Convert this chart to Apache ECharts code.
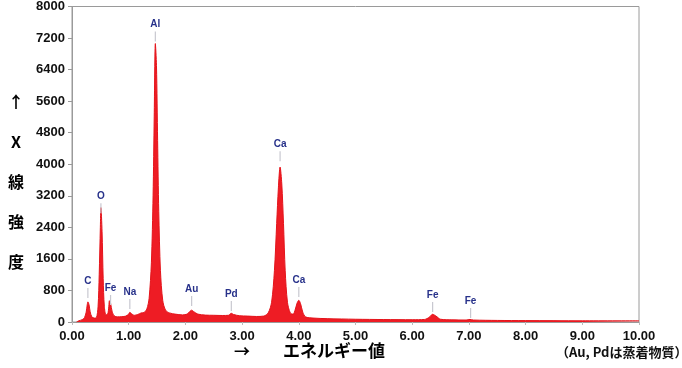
<!DOCTYPE html>
<html><head><meta charset="utf-8">
<script src="https://cdn.jsdelivr.net/npm/echarts@6/dist/echarts.min.js"></script>
<style>html,body{margin:0;padding:0;background:#fff}#c{width:682px;height:368px}</style>
</head><body><div id="c"></div>
<script>
// spectrum: energy (keV) and counts
const energy = [0.08,0.12,0.18,0.22,0.25,0.27,0.28,0.30,0.32,0.35,0.39,0.43,0.46,0.48,0.50,0.51,0.53,0.55,0.57,0.60,0.63,0.65,0.66,0.68,0.71,0.75,0.80,0.88,0.95,1.00,1.02,1.05,1.10,1.16,1.22,1.27,1.32,1.36,1.40,1.43,1.45,1.47,1.49,1.51,1.53,1.56,1.60,1.65,1.72,1.82,1.95,2.03,2.08,2.11,2.15,2.22,2.35,2.50,2.65,2.76,2.81,2.85,2.95,3.10,3.25,3.38,3.46,3.52,3.57,3.61,3.64,3.67,3.70,3.73,3.76,3.80,3.85,3.90,3.94,3.97,4.00,4.03,4.07,4.12,4.25,4.50,5.00,5.50,6.00,6.22,6.30,6.36,6.42,6.50,6.70,6.95,7.02,7.08,7.50,8.00,9.00,10.00];
const counts = [0,30,60,110,250,450,510,440,260,130,100,110,400,1200,2400,2900,2300,1100,400,180,200,400,540,480,250,150,130,135,150,200,245,210,170,190,230,240,330,600,1500,3200,5200,7060,6500,4600,2800,1300,550,300,230,200,180,200,270,300,260,200,175,170,165,170,220,190,160,150,140,150,230,500,1300,2500,3400,3930,3500,2500,1300,500,230,200,330,480,550,470,250,130,100,85,70,62,58,65,120,195,150,70,55,50,65,50,40,35,30,28];
// peak annotations
const peakNames = ['C','O','Fe','Na','Al','Au','Pd','Ca','Ca','Fe','Fe'];
const peakEnergy = [0.28,0.51,0.68,1.02,1.47,2.11,2.81,3.67,4.00,6.36,7.03];
const peakTickTop = [861,3013,684,582,7367,658,532,4329,886,506,354];
// axis ticks
const yTicks = [0,800,1600,2400,3200,4000,4800,5600,6400,7200,8000];
const xTicks = [0,1,2,3,4,5,6,7,8,9,10];

const chart = echarts.init(document.getElementById('c'));
const spec = energy.map((e,i)=>[e,counts[i]]);
const peaks = peakEnergy.map((e,i)=>[e,peakTickTop[i],peakNames[i]]);
chart.setOption({
  animation:false,
  grid:{left:72,right:43,top:5,bottom:46,show:true,borderColor:'#9a9a9a',borderWidth:1},
  xAxis:{type:'value',min:xTicks[0],max:xTicks[xTicks.length-1],interval:1,
    axisLine:{lineStyle:{color:'#9a9a9a'}},axisTick:{length:3,lineStyle:{color:'#bbb'}},
    splitLine:{show:false},
    axisLabel:{formatter:v=>v.toFixed(2),color:'#111',margin:8,
      fontFamily:'"Liberation Sans", Arial, sans-serif',fontWeight:'bold',fontSize:13}},
  yAxis:{type:'value',min:yTicks[0],max:yTicks[yTicks.length-1],interval:800,
    axisLine:{show:true,lineStyle:{color:'#9a9a9a'}},axisTick:{show:true,length:4,lineStyle:{color:'#9a9a9a'}},
    splitLine:{show:false},
    axisLabel:{formatter:v=>String(v),color:'#111',margin:7,fontFamily:'"Liberation Sans", Arial, sans-serif',fontWeight:'bold',fontSize:13}},
  series:[
    {type:'line',data:spec,symbol:'none',smooth:0.3,
      lineStyle:{color:'#e4141b',width:1},areaStyle:{color:'#ee1c24',opacity:1},z:2},
    {type:'custom',data:peaks,clip:false,z:5,
      renderItem:(params,api)=>{
        const p = api.coord([api.value(0),api.value(1)]);
        const name = peakNames[params.dataIndex];
        return {type:'group',children:[
          {type:'line',shape:{x1:p[0],y1:p[1],x2:p[0],y2:p[1]+10},style:{stroke:'#c8c8d0',lineWidth:1.2}},
          {type:'text',style:{text:name,x:p[0],y:p[1]-2,textAlign:'center',textVerticalAlign:'bottom',
            fill:'#27318a',font:'bold 10px "Liberation Sans", Arial, sans-serif'}}
        ]};
      }}
  ],
  graphic:[
    {type:'text',left:8,top:82,style:{text:'↑\nX\n線\n強\n度',fill:'#000',lineHeight:40,textAlign:'center',
      font:'bold 16px "Noto Sans CJK JP", sans-serif'}},
    {type:'text',left:234,top:343,style:{text:'→',fill:'#000',font:'bold 16px "Noto Sans CJK JP", sans-serif'}},
    {type:'text',left:283,top:342,style:{text:'エネルギー値',fill:'#000',font:'bold 17px "Noto Sans CJK JP", sans-serif'}},
    {type:'text',left:556,top:346,style:{text:'（Au, Pdは蒸着物質）',fill:'#111',font:'bold 13px "Noto Sans CJK JP", sans-serif'}}
  ]
});
</script></body></html>
